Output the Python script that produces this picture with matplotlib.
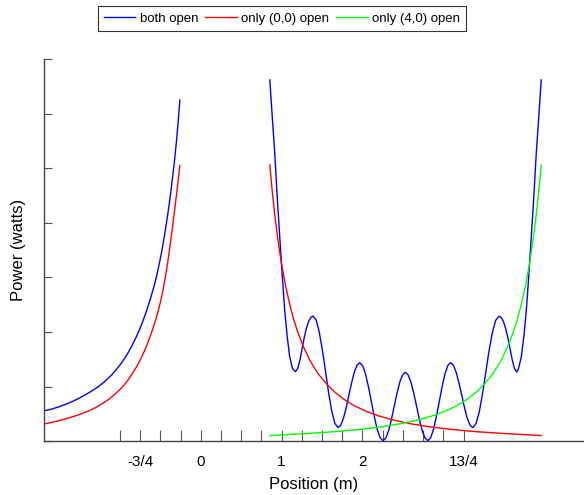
import matplotlib
matplotlib.use("Agg")
import matplotlib.pyplot as plt

plt.rcParams['font.family'] = ['Liberation Sans', 'DejaVu Sans']

# values (power in tick units, the y axis has no labels)
left_x = [-1.939, -1.85, -1.75, -1.65, -1.576, -1.5, -1.4, -1.3, -1.268, -1.2, -1.1, -1.0,
          -0.95, -0.9, -0.85, -0.793, -0.75, -0.71, -0.67, -0.63, -0.588, -0.55, -0.51,
          -0.48, -0.444, -0.41, -0.375, -0.341, -0.32, -0.299, -0.28, -0.258]
left_both = [0.559, 0.586, 0.634, 0.690, 0.737, 0.792, 0.874, 0.967, 1.0, 1.078, 1.217, 1.394,
             1.499, 1.618, 1.752, 1.925, 2.073, 2.224, 2.390, 2.573, 2.785, 2.999, 3.271,
             3.499, 3.809, 4.135, 4.51, 4.924, 5.198, 5.517, 5.837, 6.251]
left_red_x = [-1.939, -1.85, -1.75, -1.65, -1.576, -1.5, -1.4, -1.3, -1.2, -1.164, -1.1, -1.0,
              -0.95, -0.9, -0.876, -0.83, -0.78, -0.73, -0.70, -0.67, -0.63, -0.59, -0.555,
              -0.526, -0.495, -0.465, -0.43, -0.40, -0.361, -0.33, -0.299, -0.28, -0.258]
left_red = [0.317, 0.344, 0.379, 0.421, 0.452, 0.490, 0.548, 0.618, 0.705, 0.740, 0.812, 0.947,
            1.027, 1.122, 1.172, 1.276, 1.401, 1.546, 1.642, 1.747, 1.903, 2.075, 2.240,
            2.388, 2.574, 2.784, 3.075, 3.363, 3.784, 4.15, 4.528, 4.766, 5.048]

both_x = [0.854, 0.885, 0.915, 0.946, 0.977, 1.008, 1.038, 1.069, 1.100, 1.135,
          1.171, 1.198, 1.226, 1.253, 1.280, 1.307, 1.335, 1.362,
          1.389, 1.428, 1.466, 1.505, 1.544, 1.582, 1.621, 1.659,
          1.698, 1.732, 1.765, 1.799, 1.832, 1.866, 1.899, 1.933,
          1.966, 2.002, 2.038, 2.074, 2.110, 2.146, 2.182, 2.218,
          2.254, 2.289, 2.323, 2.358, 2.392, 2.427, 2.461, 2.496,
          2.530, 2.565, 2.600, 2.635, 2.670, 2.704, 2.739, 2.774,
          2.809, 2.844, 2.879, 2.914, 2.950, 2.985, 3.020, 3.055,
          3.090, 3.124, 3.159, 3.193, 3.228, 3.262, 3.296, 3.331,
          3.365, 3.405, 3.446, 3.486, 3.526, 3.566, 3.607, 3.647,
          3.687, 3.715, 3.742, 3.770, 3.798, 3.826, 3.854, 3.881,
          3.909, 3.930, 3.965, 3.996, 4.027, 4.057, 4.088, 4.119, 4.150, 4.180, 4.211]
both_y = [6.617, 5.93, 5.28, 4.47, 3.742, 3.03, 2.405, 1.92, 1.549, 1.33,
          1.275, 1.33, 1.48, 1.69, 1.90, 2.07, 2.20, 2.27,
          2.295, 2.217, 1.996, 1.663, 1.272, 0.881, 0.548, 0.327,
          0.249, 0.294, 0.423, 0.617, 0.845, 1.072, 1.266, 1.395,
          1.440, 1.386, 1.231, 0.998, 0.726, 0.453, 0.220, 0.066,
          0.011, 0.059, 0.194, 0.398, 0.638, 0.877, 1.081, 1.216,
          1.264, 1.216, 1.081, 0.877, 0.638, 0.398, 0.194, 0.059,
          0.011, 0.066, 0.220, 0.453, 0.726, 0.998, 1.231, 1.386,
          1.440, 1.395, 1.266, 1.072, 0.845, 0.617, 0.423, 0.294,
          0.249, 0.327, 0.547, 0.880, 1.270, 1.659, 1.992, 2.212,
          2.290, 2.27, 2.20, 2.07, 1.90, 1.69, 1.48, 1.33,
          1.269, 1.33, 1.549, 1.92, 2.405, 3.03, 3.742, 4.47, 5.28, 5.93, 6.617]

red_x = [0.854, 0.88, 0.91, 0.94, 0.97, 1.00, 1.05, 1.10, 1.15, 1.20, 1.27, 1.35, 1.45,
         1.55, 1.65, 1.77, 1.90, 2.05, 2.20, 2.40, 2.60, 2.85, 3.10, 3.40, 3.75, 4.211]
red_y = [5.061, 4.64, 4.22, 3.85, 3.53, 3.24, 2.84, 2.51, 2.23, 2.00, 1.73, 1.48, 1.24,
         1.06, 0.91, 0.77, 0.65, 0.547, 0.466, 0.382, 0.32, 0.261, 0.217, 0.177, 0.143, 0.105]

green_x = [0.854, 1.315, 1.665, 1.965, 2.215, 2.465, 2.665, 2.865, 3.015, 3.165, 3.295,
           3.415, 3.515, 3.615, 3.715, 3.795, 3.865, 3.915, 3.965, 4.015, 4.065, 4.095,
           4.125, 4.155, 4.185, 4.211]
green_y = [0.105, 0.143, 0.177, 0.217, 0.261, 0.32, 0.382, 0.466, 0.547, 0.65, 0.77,
           0.91, 1.06, 1.24, 1.48, 1.73, 2.00, 2.23, 2.51, 2.84, 3.24, 3.53,
           3.85, 4.22, 4.64, 5.061]

tick_pos = [-1.0, -0.75, -0.5, -0.25, 0.0, 0.25, 0.5, 0.75, 1.0, 1.25, 1.5, 1.75,
            2.0, 2.25, 2.5, 2.75, 3.0, 3.25]
tick_text = {-0.75: '-3/4', 0.0: '0', 1.0: '1', 2.0: '2', 3.25: '13/4'}

fig = plt.figure(figsize=(5.84, 4.95), dpi=100)
ax = fig.add_axes([0.0753, 0.1085, 0.9247, 0.7723])

ax.plot(left_x, left_both, color='#0000ff', lw=1.0, label='both open')
ax.plot(left_red_x, left_red, color='#ff0000', lw=1.0, label='only (0,0) open')
ax.plot(both_x, both_y, color='#0000ff', lw=1.0)
ax.plot(red_x, red_y, color='#ff0000', lw=1.0)
ax.plot(green_x, green_y, color='#00ff00', lw=1.0, label='only (4,0) open')

ax.set_xlim(-1.939, 4.74)
ax.set_ylim(0, 7)
ax.set_xticks(tick_pos)
ax.set_xticklabels([tick_text.get(t, '') for t in tick_pos], fontsize=11)
ax.set_yticks(range(8))
ax.set_yticklabels([])
ax.tick_params(axis='x', direction='in', length=8, color='#555555', pad=10)
ax.tick_params(axis='y', direction='in', length=6, color='#555555')
for s in ['top', 'right']:
    ax.spines[s].set_visible(False)
for s in ['left', 'bottom']:
    ax.spines[s].set_color('#444444')
    ax.spines[s].set_linewidth(1.0)

ax.set_xlabel('Position (m)', fontsize=12, labelpad=5.5)
ax.set_ylabel('Power (watts)', fontsize=12, labelpad=9.5)

leg = fig.legend(loc='center', bbox_to_anchor=(0.483, 0.9626), ncol=3, fontsize=9.5,
                 frameon=True, fancybox=False, handlelength=2.4, columnspacing=0.5,
                 handletextpad=0.35, borderpad=0.45, borderaxespad=0)
leg.get_frame().set_edgecolor('black')
leg.get_frame().set_linewidth(0.8)

fig.savefig('out.png', dpi=100)
